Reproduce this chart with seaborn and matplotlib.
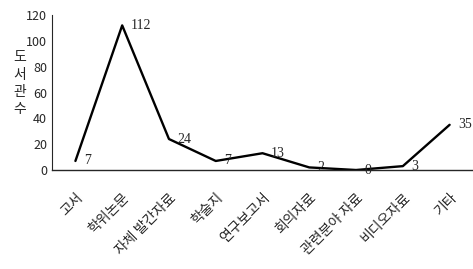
import matplotlib
matplotlib.use("Agg")
import matplotlib.pyplot as plt
import pandas as pd
import seaborn as sns

categories = ["고서", "학위논문", "자체 발간자료", "학술지", "연구보고서",
              "회의자료", "관련분야 자료", "비디오자료", "기타"]
counts = [7, 112, 24, 7, 13, 2, 0, 3, 35]
y_ticks = [0, 20, 40, 60, 80, 100, 120]

sns.set_style("white")
plt.rcParams["font.family"] = ["Noto Sans CJK KR", "DejaVu Sans"]

df = pd.DataFrame({"pos": range(len(categories)), "count": counts})

fig = plt.figure(figsize=(4.73, 2.69), dpi=100)
ax = fig.add_axes([0.11, 0.368, 0.89, 0.576])

sns.lineplot(data=df, x="pos", y="count", color="black", linewidth=1.7, ax=ax)

# value labels next to each point
for x, y in zip(df["pos"], df["count"]):
    ax.annotate(str(y), (x, y), xytext=(6, 0), textcoords="offset points",
                ha="left", va="center", fontsize=10,
                family="Liberation Serif", annotation_clip=False)

ax.set_xlim(-0.5, len(categories) - 0.5)
ax.set_ylim(0, 120)
ax.set_yticks(y_ticks)
ax.tick_params(axis="y", direction="inout", length=5, width=0.8,
               labelsize=9, pad=1)

# ticks between categories, labels at categories
ax.set_xticks([i + 0.5 for i in range(len(categories) - 1)])
ax.set_xticklabels([])
ax.set_xticks(range(len(categories)), minor=True)
ax.set_xticklabels(categories, minor=True, rotation=45, ha="right",
                   rotation_mode="anchor", fontsize=10)
ax.tick_params(axis="x", which="major", direction="out", length=4, width=0.8)
ax.tick_params(axis="x", which="minor", length=0, pad=15)

for side in ["top", "right"]:
    ax.spines[side].set_visible(False)
ax.spines["left"].set_linewidth(0.8)
ax.spines["bottom"].set_linewidth(1.0)
ax.set_xlabel("")
ax.set_ylabel("")

fig.text(0.042, 0.69, "도\n서\n관\n수", ha="center", va="center",
         fontsize=10, linespacing=1.3)

fig.savefig("out.png", dpi=100)
